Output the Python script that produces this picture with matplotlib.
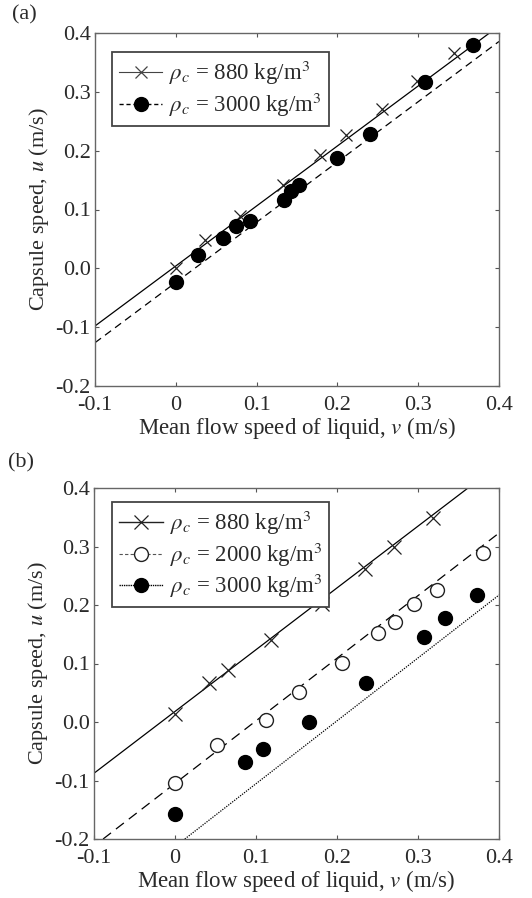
import numpy as np
import matplotlib
matplotlib.use("Agg")
import matplotlib.pyplot as plt

plt.rcParams['font.family'] = ['Liberation Serif', 'DejaVu Serif']
plt.rcParams['mathtext.fontset'] = 'stix'

TEXT = '#2a2a2a'

# panel (a)
a_v_880 = [0.0, 0.036, 0.079, 0.133, 0.179, 0.211, 0.255, 0.298, 0.344]
a_u_880 = [0.001, 0.049, 0.089, 0.141, 0.192, 0.227, 0.271, 0.318, 0.366]
a_v_3000 = [0.0, 0.028, 0.058, 0.075, 0.092, 0.134, 0.143, 0.152, 0.200, 0.240, 0.308, 0.368]
a_u_3000 = [-0.024, 0.022, 0.051, 0.072, 0.080, 0.116, 0.132, 0.141, 0.187, 0.229, 0.316, 0.380]
a_fit_880 = (1.02, 0.004)    # slope, intercept
a_fit_3000 = (1.024, -0.024)

# panel (b)
b_v_880 = [0.0, 0.042, 0.065, 0.119, 0.181, 0.234, 0.270, 0.319]
b_u_880 = [0.0135, 0.066, 0.089, 0.140, 0.201, 0.262, 0.299, 0.349]
b_v_2000 = [0.0, 0.052, 0.112, 0.153, 0.206, 0.251, 0.271, 0.295, 0.323, 0.380]
b_u_2000 = [-0.105, -0.040, 0.004, 0.051, 0.101, 0.152, 0.171, 0.201, 0.225, 0.289]
b_v_3000 = [0.0, 0.086, 0.109, 0.166, 0.236, 0.307, 0.333, 0.373]
b_u_3000 = [-0.158, -0.068, -0.047, 0.0, 0.066, 0.146, 0.177, 0.217]
b_fit_880 = (1.056, 0.018)
b_fit_2000 = (1.07, -0.105)
b_fit_3000 = (1.075, -0.213)

xticks = [-0.1, 0, 0.1, 0.2, 0.3, 0.4]
xticklabels = ['-0.1', '0', '0.1', '0.2', '0.3', '0.4']
yticks = [-0.2, -0.1, 0.0, 0.1, 0.2, 0.3, 0.4]
yticklabels = ['-0.2', '-0.1', '0.0', '0.1', '0.2', '0.3', '0.4']

lab_880 = r'$\rho_c$ = 880 kg/m$^3$'
lab_2000 = r'$\rho_c$ = 2000 kg/m$^3$'
lab_3000 = r'$\rho_c$ = 3000 kg/m$^3$'


def fitline(ax, fit, **kw):
    slope, icpt = fit
    ax.axline((0, icpt), slope=slope, color='black', lw=0.9, **kw)


def style_axes(ax):
    ax.set_xlim(-0.1, 0.4)
    ax.set_ylim(-0.2, 0.4)
    ax.set_xticks(xticks)
    ax.set_xticklabels(xticklabels)
    ax.set_yticks(yticks)
    ax.set_yticklabels(yticklabels)
    ax.tick_params(direction='in', top=True, right=True, length=3, width=0.8,
                   labelsize=16, colors='#555555', labelcolor=TEXT)
    ax.tick_params(axis='x', pad=7)
    ax.tick_params(axis='y', pad=3)
    for s in ax.spines.values():
        s.set_color('#666666')
        s.set_linewidth(1.0)
    ax.set_xlabel(r'Mean flow speed of liquid, $v$ (m/s)', fontsize=16.5, color=TEXT, labelpad=0)
    ax.set_ylabel(r'Capsule speed, $u$ (m/s)', fontsize=16, color=TEXT, labelpad=3)


def legend(ax, handles, anchor):
    leg = ax.legend(handles=handles, loc='upper left', bbox_to_anchor=anchor,
                    fontsize=16.5, frameon=True, fancybox=False, handlelength=1.9,
                    handletextpad=0.3, borderpad=0.3, labelspacing=0.15, borderaxespad=0,
                    framealpha=1)
    leg.get_frame().set_edgecolor('#444444')
    leg.get_frame().set_linewidth(1.3)
    for t in leg.get_texts():
        t.set_color(TEXT)


fig = plt.figure(figsize=(5.32, 8.98), dpi=100)
ax1 = fig.add_axes([95 / 532, 1 - 386 / 898, 404 / 532, 353 / 898])
ax2 = fig.add_axes([94 / 532, 1 - 839 / 898, 405 / 532, 351 / 898])

# (a)
fitline(ax1, a_fit_880, ls='-')
fitline(ax1, a_fit_3000, ls=(0, (6, 4)))
ax1.plot(a_v_880, a_u_880, 'x', color='#222222', ms=9, mew=0.9)
ax1.plot(a_v_3000, a_u_3000, 'o', color='black', ms=10)
h1 = ax1.plot([], [], '-x', color='#444444', lw=0.8, ms=9, mew=0.9, label=lab_880)[0]
h2 = ax1.plot([], [], 'o', ls=(0, (3, 2)), color='black', lw=1.0, ms=10, label=lab_3000)[0]
style_axes(ax1)
legend(ax1, [h1, h2], (0.042, 0.945))

# (b)
fitline(ax2, b_fit_880, ls='-')
fitline(ax2, b_fit_2000, ls=(0, (8, 5)))
fitline(ax2, b_fit_3000, ls=(0, (1, 1)))
ax2.plot(b_v_880, b_u_880, 'x', color='#222222', ms=10, mew=0.9)
ax2.plot(b_v_2000, b_u_2000, 'o', mfc='white', mec='#222222', mew=1.0, ms=10)
ax2.plot(b_v_3000, b_u_3000, 'o', color='black', ms=10)
g1 = ax2.plot([], [], '-x', color='#222222', lw=1.0, ms=10, mew=0.9, label=lab_880)[0]
g2 = ax2.plot([], [], 'o', ls=(0, (3, 2)), color='#555555', lw=0.8, mfc='white',
              mec='#222222', ms=10, label=lab_2000)[0]
g3 = ax2.plot([], [], 'o', ls=(0, (1, 0.6)), color='black', lw=1.0, ms=10, label=lab_3000)[0]
style_axes(ax2)
legend(ax2, [g1, g2, g3], (0.045, 0.96))

fig.text(12 / 532, 1 - 15 / 898, '(a)', fontsize=16, color=TEXT, va='center')
fig.text(8 / 532, 1 - 463 / 898, '(b)', fontsize=16, color=TEXT, va='center')

fig.savefig('out.png', dpi=100, facecolor='white')
